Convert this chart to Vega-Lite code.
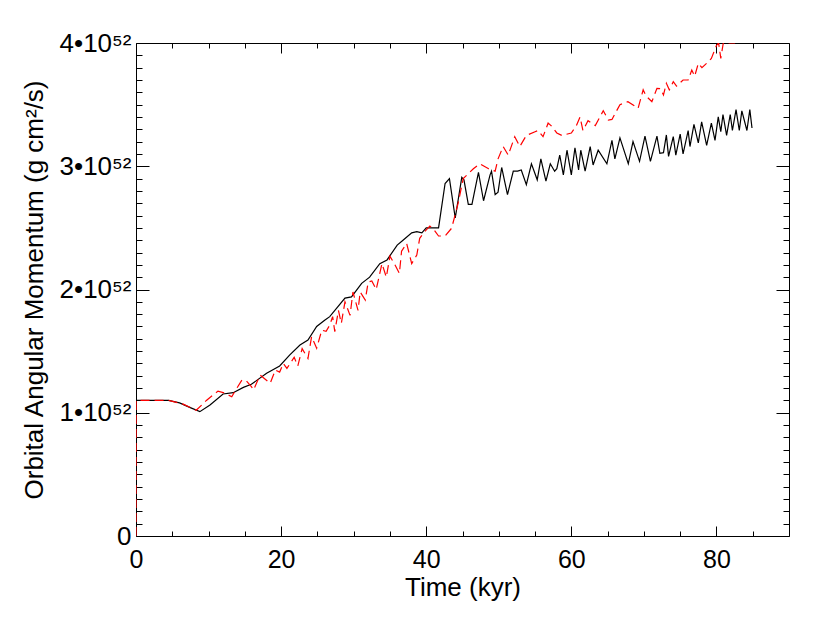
{
  "$schema": "https://vega.github.io/schema/vega-lite/v6.json",
  "width": 653,
  "height": 493,
  "autosize": "none",
  "padding": {"left": 136, "top": 43, "right": 41, "bottom": 87},
  "background": "white",
  "config": {
    "view": {"stroke": "black", "strokeWidth": 1},
    "font": "Liberation Sans",
    "axis": {
      "grid": false,
      "domain": false,
      "tickColor": "black",
      "tickWidth": 1,
      "labelFont": "Liberation Sans",
      "titleFont": "Liberation Sans",
      "labelFontSize": 26,
      "titleFontSize": 26,
      "titleFontWeight": "normal",
      "labelColor": "black",
      "titleColor": "black",
      "labelFlush": false,
      "labelOverlap": false
    }
  },
  "datasets": {
    "lines": [
      {"series": "black", "t": 0, "J": 1.10},
      {"series": "black", "t": 4.5, "J": 1.10},
      {"series": "black", "t": 6.0, "J": 1.08},
      {"series": "black", "t": 7.4, "J": 1.044},
      {"series": "black", "t": 8.8, "J": 1.009},
      {"series": "black", "t": 10.2, "J": 1.063},
      {"series": "black", "t": 12.0, "J": 1.152},
      {"series": "black", "t": 13.4, "J": 1.163},
      {"series": "black", "t": 14.8, "J": 1.206},
      {"series": "black", "t": 15.9, "J": 1.231},
      {"series": "black", "t": 18.0, "J": 1.32},
      {"series": "black", "t": 19.8, "J": 1.38},
      {"series": "black", "t": 21.2, "J": 1.469},
      {"series": "black", "t": 22.6, "J": 1.55},
      {"series": "black", "t": 23.7, "J": 1.59},
      {"series": "black", "t": 24.9, "J": 1.70},
      {"series": "black", "t": 26.0, "J": 1.75},
      {"series": "black", "t": 26.7, "J": 1.78},
      {"series": "black", "t": 28.8, "J": 1.93},
      {"series": "black", "t": 29.7, "J": 1.94},
      {"series": "black", "t": 31.1, "J": 2.05},
      {"series": "black", "t": 32.2, "J": 2.10},
      {"series": "black", "t": 33.6, "J": 2.21},
      {"series": "black", "t": 34.6, "J": 2.24},
      {"series": "black", "t": 36.0, "J": 2.36},
      {"series": "black", "t": 36.8, "J": 2.40},
      {"series": "black", "t": 38.0, "J": 2.46},
      {"series": "black", "t": 38.7, "J": 2.47},
      {"series": "black", "t": 39.4, "J": 2.46},
      {"series": "black", "t": 40.0, "J": 2.50},
      {"series": "black", "t": 41.7, "J": 2.50},
      {"series": "black", "t": 42.6, "J": 2.86},
      {"series": "black", "t": 43.2, "J": 2.90},
      {"series": "black", "t": 44.0, "J": 2.58},
      {"series": "black", "t": 44.9, "J": 2.91},
      {"series": "black", "t": 45.2, "J": 2.89},
      {"series": "black", "t": 45.8, "J": 2.69},
      {"series": "black", "t": 46.3, "J": 2.69},
      {"series": "black", "t": 47.2, "J": 2.95},
      {"series": "black", "t": 47.9, "J": 2.72},
      {"series": "black", "t": 48.8, "J": 2.93},
      {"series": "black", "t": 49.0, "J": 2.96},
      {"series": "black", "t": 49.5, "J": 2.77},
      {"series": "black", "t": 49.9, "J": 2.79},
      {"series": "black", "t": 50.4, "J": 2.99},
      {"series": "black", "t": 51.2, "J": 2.77},
      {"series": "black", "t": 52.0, "J": 2.96},
      {"series": "black", "t": 52.6, "J": 2.96},
      {"series": "black", "t": 53.1, "J": 2.97},
      {"series": "black", "t": 53.8, "J": 2.85},
      {"series": "black", "t": 54.5, "J": 3.02},
      {"series": "black", "t": 55.3, "J": 2.89},
      {"series": "black", "t": 55.8, "J": 3.06},
      {"series": "black", "t": 56.5, "J": 2.88},
      {"series": "black", "t": 57.1, "J": 3.02},
      {"series": "black", "t": 57.7, "J": 2.96},
      {"series": "black", "t": 58.0, "J": 2.98},
      {"series": "black", "t": 58.4, "J": 3.09},
      {"series": "black", "t": 58.9, "J": 2.93},
      {"series": "black", "t": 59.4, "J": 3.13},
      {"series": "black", "t": 60.0, "J": 2.93},
      {"series": "black", "t": 60.5, "J": 3.15},
      {"series": "black", "t": 61.0, "J": 2.97},
      {"series": "black", "t": 61.3, "J": 3.13},
      {"series": "black", "t": 61.9, "J": 2.96},
      {"series": "black", "t": 62.6, "J": 3.16},
      {"series": "black", "t": 63.0, "J": 3.01},
      {"series": "black", "t": 63.7, "J": 3.13},
      {"series": "black", "t": 64.9, "J": 3.02},
      {"series": "black", "t": 65.6, "J": 3.21},
      {"series": "black", "t": 66.0, "J": 3.06},
      {"series": "black", "t": 66.7, "J": 3.23},
      {"series": "black", "t": 67.85, "J": 3.02},
      {"series": "black", "t": 68.5, "J": 3.20},
      {"series": "black", "t": 69.4, "J": 3.04},
      {"series": "black", "t": 70.15, "J": 3.245},
      {"series": "black", "t": 70.9, "J": 3.04},
      {"series": "black", "t": 71.8, "J": 3.245},
      {"series": "black", "t": 72.2, "J": 3.105},
      {"series": "black", "t": 72.7, "J": 3.11},
      {"series": "black", "t": 73.1, "J": 3.254},
      {"series": "black", "t": 73.4, "J": 3.08},
      {"series": "black", "t": 74.05, "J": 3.24},
      {"series": "black", "t": 74.4, "J": 3.09},
      {"series": "black", "t": 75.0, "J": 3.26},
      {"series": "black", "t": 75.4, "J": 3.10},
      {"series": "black", "t": 76.1, "J": 3.29},
      {"series": "black", "t": 76.35, "J": 3.16},
      {"series": "black", "t": 76.9, "J": 3.34},
      {"series": "black", "t": 77.5, "J": 3.19},
      {"series": "black", "t": 77.96, "J": 3.36},
      {"series": "black", "t": 78.65, "J": 3.17},
      {"series": "black", "t": 79.3, "J": 3.35},
      {"series": "black", "t": 79.8, "J": 3.21},
      {"series": "black", "t": 80.25, "J": 3.40},
      {"series": "black", "t": 80.6, "J": 3.28},
      {"series": "black", "t": 80.9, "J": 3.42},
      {"series": "black", "t": 81.4, "J": 3.25},
      {"series": "black", "t": 81.9, "J": 3.42},
      {"series": "black", "t": 82.2, "J": 3.29},
      {"series": "black", "t": 82.7, "J": 3.46},
      {"series": "black", "t": 83.15, "J": 3.29},
      {"series": "black", "t": 83.5, "J": 3.45},
      {"series": "black", "t": 84.2, "J": 3.29},
      {"series": "black", "t": 84.6, "J": 3.46},
      {"series": "black", "t": 84.9, "J": 3.31},

      {"series": "red", "t": 0, "J": 0},
      {"series": "red", "t": 0.02, "J": 1.10},
      {"series": "red", "t": 4.5, "J": 1.10},
      {"series": "red", "t": 6.5, "J": 1.07},
      {"series": "red", "t": 8.3, "J": 1.02},
      {"series": "red", "t": 9.7, "J": 1.10},
      {"series": "red", "t": 11.3, "J": 1.176},
      {"series": "red", "t": 12.2, "J": 1.16},
      {"series": "red", "t": 13.2, "J": 1.13},
      {"series": "red", "t": 13.6, "J": 1.171},
      {"series": "red", "t": 14.6, "J": 1.266},
      {"series": "red", "t": 15.2, "J": 1.26},
      {"series": "red", "t": 15.9, "J": 1.212},
      {"series": "red", "t": 16.2, "J": 1.185},
      {"series": "red", "t": 17.1, "J": 1.306},
      {"series": "red", "t": 18.5, "J": 1.239},
      {"series": "red", "t": 19.2, "J": 1.347},
      {"series": "red", "t": 19.8, "J": 1.33},
      {"series": "red", "t": 20.3, "J": 1.40},
      {"series": "red", "t": 20.8, "J": 1.36},
      {"series": "red", "t": 21.8, "J": 1.45},
      {"series": "red", "t": 22.3, "J": 1.38},
      {"series": "red", "t": 22.9, "J": 1.52},
      {"series": "red", "t": 23.7, "J": 1.44},
      {"series": "red", "t": 24.2, "J": 1.617},
      {"series": "red", "t": 24.9, "J": 1.523},
      {"series": "red", "t": 25.6, "J": 1.67},
      {"series": "red", "t": 26.2, "J": 1.66},
      {"series": "red", "t": 26.7, "J": 1.71},
      {"series": "red", "t": 27.1, "J": 1.78},
      {"series": "red", "t": 27.4, "J": 1.658},
      {"series": "red", "t": 27.9, "J": 1.83},
      {"series": "red", "t": 28.3, "J": 1.726},
      {"series": "red", "t": 28.8, "J": 1.90},
      {"series": "red", "t": 29.5, "J": 1.79},
      {"series": "red", "t": 29.9, "J": 1.98},
      {"series": "red", "t": 30.6, "J": 1.83},
      {"series": "red", "t": 30.9, "J": 1.98},
      {"series": "red", "t": 31.6, "J": 1.915},
      {"series": "red", "t": 32.0, "J": 2.06},
      {"series": "red", "t": 32.5, "J": 2.07},
      {"series": "red", "t": 33.1, "J": 2.00},
      {"series": "red", "t": 33.6, "J": 2.13},
      {"series": "red", "t": 33.9, "J": 2.21},
      {"series": "red", "t": 34.5, "J": 2.10},
      {"series": "red", "t": 35.0, "J": 2.27},
      {"series": "red", "t": 35.6, "J": 2.21},
      {"series": "red", "t": 36.3, "J": 2.13},
      {"series": "red", "t": 36.6, "J": 2.31},
      {"series": "red", "t": 37.3, "J": 2.375},
      {"series": "red", "t": 38.0, "J": 2.21},
      {"series": "red", "t": 38.7, "J": 2.28},
      {"series": "red", "t": 39.1, "J": 2.415},
      {"series": "red", "t": 39.8, "J": 2.47},
      {"series": "red", "t": 40.5, "J": 2.515},
      {"series": "red", "t": 41.0, "J": 2.49},
      {"series": "red", "t": 41.7, "J": 2.434},
      {"series": "red", "t": 42.6, "J": 2.434},
      {"series": "red", "t": 43.5, "J": 2.497},
      {"series": "red", "t": 44.4, "J": 2.70},
      {"series": "red", "t": 45.1, "J": 2.90},
      {"series": "red", "t": 46.5, "J": 2.98},
      {"series": "red", "t": 47.4, "J": 3.02},
      {"series": "red", "t": 48.6, "J": 2.98},
      {"series": "red", "t": 49.5, "J": 2.96},
      {"series": "red", "t": 49.9, "J": 3.06},
      {"series": "red", "t": 50.6, "J": 3.16},
      {"series": "red", "t": 51.3, "J": 3.09},
      {"series": "red", "t": 52.2, "J": 3.24},
      {"series": "red", "t": 52.9, "J": 3.16},
      {"series": "red", "t": 53.8, "J": 3.25},
      {"series": "red", "t": 55.0, "J": 3.28},
      {"series": "red", "t": 55.4, "J": 3.29},
      {"series": "red", "t": 56.1, "J": 3.24},
      {"series": "red", "t": 56.8, "J": 3.35},
      {"series": "red", "t": 57.2, "J": 3.33},
      {"series": "red", "t": 58.0, "J": 3.27},
      {"series": "red", "t": 58.7, "J": 3.25},
      {"series": "red", "t": 60.0, "J": 3.27},
      {"series": "red", "t": 60.7, "J": 3.33},
      {"series": "red", "t": 61.2, "J": 3.40},
      {"series": "red", "t": 61.6, "J": 3.29},
      {"series": "red", "t": 62.3, "J": 3.37},
      {"series": "red", "t": 63.3, "J": 3.33},
      {"series": "red", "t": 64.4, "J": 3.45},
      {"series": "red", "t": 65.1, "J": 3.375},
      {"series": "red", "t": 65.6, "J": 3.38},
      {"series": "red", "t": 66.7, "J": 3.50},
      {"series": "red", "t": 67.8, "J": 3.524},
      {"series": "red", "t": 69.2, "J": 3.47},
      {"series": "red", "t": 69.9, "J": 3.62},
      {"series": "red", "t": 70.3, "J": 3.57},
      {"series": "red", "t": 71.1, "J": 3.524},
      {"series": "red", "t": 71.8, "J": 3.632},
      {"series": "red", "t": 72.3, "J": 3.63},
      {"series": "red", "t": 72.7, "J": 3.578},
      {"series": "red", "t": 73.1, "J": 3.673},
      {"series": "red", "t": 73.5, "J": 3.62},
      {"series": "red", "t": 74.05, "J": 3.686},
      {"series": "red", "t": 74.5, "J": 3.65},
      {"series": "red", "t": 75.4, "J": 3.70},
      {"series": "red", "t": 76.1, "J": 3.70},
      {"series": "red", "t": 76.6, "J": 3.78},
      {"series": "red", "t": 77.0, "J": 3.73},
      {"series": "red", "t": 77.5, "J": 3.835},
      {"series": "red", "t": 78.0, "J": 3.80},
      {"series": "red", "t": 78.65, "J": 3.835},
      {"series": "red", "t": 79.3, "J": 3.875},
      {"series": "red", "t": 80.0, "J": 3.98},
      {"series": "red", "t": 80.3, "J": 4.0},
      {"series": "red", "t": 80.6, "J": 3.875},
      {"series": "red", "t": 81.0, "J": 4.02},
      {"series": "red", "t": 81.8, "J": 4.0},
      {"series": "red", "t": 82.5, "J": 4.0},
      {"series": "red", "t": 83.5, "J": 4.08},
      {"series": "red", "t": 84.9, "J": 4.12}
    ]
  },
  "data": {"name": "lines"},
  "resolve": {"axis": {"x": "independent", "y": "independent"}},
  "layer": [
    {
      "transform": [{"filter": "datum.series === 'black'"}],
      "mark": {"type": "line", "color": "black", "opacity": 0, "clip": true},
      "encoding": {
        "x": {
          "field": "t", "type": "quantitative",
          "scale": {"domain": [0, 90], "nice": false, "zero": false},
          "axis": {"orient": "bottom", "title": null, "labels": false, "offset": -5, "tickSize": 5,
            "values": [5,10,15,25,30,35,45,50,55,65,70,75,85]}
        },
        "y": {
          "field": "J", "type": "quantitative",
          "scale": {"domain": [0, 4], "nice": false, "zero": false},
          "axis": {"orient": "left", "title": null, "labels": false, "offset": -6, "tickSize": 6,
            "values": [0.1,0.2,0.3,0.4,0.5,0.6,0.7,0.8,0.9,1.1,1.2,1.3,1.4,1.5,1.6,1.7,1.8,1.9,2.1,2.2,2.3,2.4,2.5,2.6,2.7,2.8,2.9,3.1,3.2,3.3,3.4,3.5,3.6,3.7,3.8,3.9]}
        }
      }
    },
    {
      "transform": [{"filter": "datum.series === 'black'"}],
      "mark": {"type": "line", "color": "black", "opacity": 0, "clip": true},
      "encoding": {
        "x": {
          "field": "t", "type": "quantitative",
          "scale": {"domain": [0, 90], "nice": false, "zero": false},
          "axis": {"orient": "top", "title": null, "labels": false, "offset": -5, "tickSize": 5,
            "values": [5,10,15,25,30,35,45,50,55,65,70,75,85]}
        },
        "y": {
          "field": "J", "type": "quantitative",
          "scale": {"domain": [0, 4], "nice": false, "zero": false},
          "axis": {"orient": "right", "title": null, "labels": false, "offset": -6, "tickSize": 6,
            "values": [0.1,0.2,0.3,0.4,0.5,0.6,0.7,0.8,0.9,1.1,1.2,1.3,1.4,1.5,1.6,1.7,1.8,1.9,2.1,2.2,2.3,2.4,2.5,2.6,2.7,2.8,2.9,3.1,3.2,3.3,3.4,3.5,3.6,3.7,3.8,3.9]}
        }
      }
    },
    {
      "transform": [{"filter": "datum.series === 'black'"}],
      "mark": {"type": "line", "color": "black", "strokeWidth": 1.2, "clip": true},
      "encoding": {
        "x": {
          "field": "t", "type": "quantitative",
          "scale": {"domain": [0, 90], "nice": false, "zero": false},
          "axis": {
            "orient": "bottom",
            "title": "Time (kyr)",
            "titlePadding": 2,
            "offset": -10,
            "tickSize": 10,
            "values": [0, 20, 40, 60, 80],
            "labelFontSize": 25,
            "labelPadding": 11
          }
        },
        "y": {
          "field": "J", "type": "quantitative",
          "scale": {"domain": [0, 4], "nice": false, "zero": false},
          "axis": {
            "orient": "left",
            "title": "Orbital Angular Momentum (g cm²/s)",
            "titlePadding": 12,
            "offset": -13,
            "tickSize": 13,
            "values": [0, 1, 2, 3, 4],
            "labelExpr": "datum.value === 0 ? '0' : datum.value + '•10⁵²'",
            "labelPadding": 5
          }
        }
      }
    },
    {
      "transform": [{"filter": "datum.series === 'red'"}],
      "mark": {"type": "line", "color": "#ff0000", "strokeWidth": 1.2, "strokeDash": [9, 5], "clip": true},
      "encoding": {
        "x": {
          "field": "t", "type": "quantitative",
          "scale": {"domain": [0, 90], "nice": false, "zero": false},
          "axis": {"orient": "top", "title": null, "labels": false, "offset": -10, "tickSize": 10,
            "values": [0, 20, 40, 60, 80]}
        },
        "y": {
          "field": "J", "type": "quantitative",
          "scale": {"domain": [0, 4], "nice": false, "zero": false},
          "axis": {"orient": "right", "title": null, "labels": false, "offset": -13, "tickSize": 13,
            "values": [0, 1, 2, 3, 4]}
        }
      }
    }
  ]
}
